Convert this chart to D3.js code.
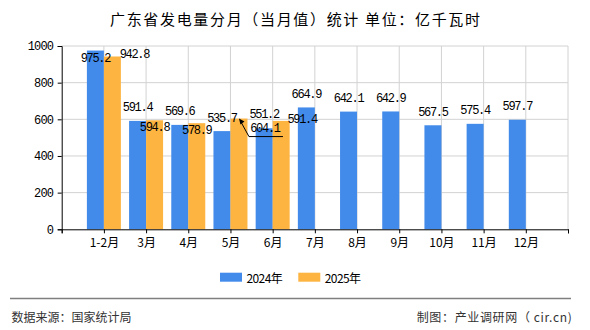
<!DOCTYPE html>
<html><head><meta charset="utf-8">
<script src="https://cdn.jsdelivr.net/npm/d3@7"></script>
<style>
body{margin:0;background:#fff;}
svg{display:block;}
</style></head>
<body>
<svg id="c" width="590" height="330"></svg>
<script>
const categories = ["1-2月","3月","4月","5月","6月","7月","8月","9月","10月","11月","12月"];
const values2024 = [975.2,591.4,569.6,535.7,551.2,664.9,642.1,642.9,567.5,575.4,597.7];
const values2025 = [942.8,594.8,578.9,604.1,591.4];
const seriesNames = ["2024年","2025年"];
const yTicks = [0,200,400,600,800,1000];
const title = "广东省发电量分月（当月值）统计 单位：亿千瓦时";
const sourceText = "数据来源：国家统计局";
const makerText = "制图：产业调研网（ cir.cn)";

const colors = ["#428BEB","#FDB441"];
const numFont = "'Liberation Mono','DejaVu Sans Mono',monospace";
const cjkFont = "'Noto Sans CJK SC','Noto Sans',sans-serif";

// label placement offsets (dx from bar centre, dy from bar top)
const blueLabelOff = [[0,8.5],[0,-12.5],[0,-13],[0,-12.2],[0,-13.2],[0,-12.4],[0,-12.6],[0,-12.6],[0,-12.6],[0,-12.8],[0,-12.4]];
const orangeLabelOff = [[22,-1.5],[0,8],[0,7.5],[26,10.7],[21,-1]];

const svg = d3.select("#c");
const L = 61.7, R = 568, T = 46, B = 229.3;
const x = d3.scaleLinear().domain([0,12]).range([L,R]);
const y = d3.scaleLinear().domain([0,1000]).range([B,T]);
const bw = 17;

// grid
const g = svg.append("g");
g.selectAll("line.h").data(yTicks.slice(1)).join("line")
  .attr("x1",L).attr("x2",R).attr("y1",d=>y(d)).attr("y2",d=>y(d))
  .attr("stroke","#d2d2d2").attr("stroke-width",1);
g.selectAll("line.v").data(d3.range(1,13)).join("line")
  .attr("x1",d=>x(d)).attr("x2",d=>x(d)).attr("y1",T).attr("y2",B)
  .attr("stroke","#d2d2d2").attr("stroke-width",1);

// bars
svg.append("g").selectAll("rect").data(values2024).join("rect")
  .attr("x",(d,i)=>x(i+1)-bw).attr("width",bw)
  .attr("y",d=>y(d)).attr("height",d=>B-y(d)).attr("fill",colors[0]);
svg.append("g").selectAll("rect").data(values2025).join("rect")
  .attr("x",(d,i)=>x(i+1)).attr("width",bw)
  .attr("y",d=>y(d)).attr("height",d=>B-y(d)).attr("fill",colors[1]);

// axes
const yAxis = svg.append("g").attr("transform",`translate(${L},0)`)
  .call(d3.axisLeft(y).tickValues(yTicks).tickSize(4).tickPadding(5).tickFormat(d3.format("d")));
const xAxis = svg.append("g").attr("transform",`translate(0,${B})`)
  .call(d3.axisBottom(x).tickValues(d3.range(0,13)).tickSize(4).tickPadding(3)
    .tickFormat(i => categories[i-1] || ""));
[yAxis,xAxis].forEach(a=>{
  a.select(".domain").attr("stroke","#000");
  a.selectAll(".tick line").attr("stroke","#000");
  a.selectAll("text").attr("fill","#000").style("font-size","12px");
});
yAxis.selectAll("text").style("font-family",numFont).style("letter-spacing","-0.9px").attr("dx","0.3px");
xAxis.selectAll("text").style("font-family",cjkFont).attr("dy","0.9em");

// value labels
const lab = svg.append("g").style("font-family",numFont).style("font-size","12px")
  .style("letter-spacing","-1.3px").attr("fill","#000");
lab.selectAll("text.b").data(values2024).join("text")
  .attr("x",(d,i)=>x(i+1)-bw/2+blueLabelOff[i][0])
  .attr("y",(d,i)=>y(d)+blueLabelOff[i][1])
  .attr("text-anchor","middle").attr("dominant-baseline","central")
  .text(d=>d.toFixed(1));
lab.selectAll("text.o").data(values2025).join("text")
  .attr("x",(d,i)=>x(i+1)+bw/2+orangeLabelOff[i][0])
  .attr("y",(d,i)=>y(d)+orangeLabelOff[i][1])
  .attr("text-anchor","middle").attr("dominant-baseline","central")
  .text(d=>d.toFixed(1));

// leader line for 5月 2025 label
{
  const i = 3, cx = x(i+1)+bw/2, ty = y(values2025[i]);
  svg.append("path")
    .attr("d",`M${cx+10},${ty+18} L${cx+44},${ty+18} M${cx+10},${ty+18} L${cx+1.5},${ty+2.5}`)
    .attr("stroke","#000").attr("stroke-width",1).attr("fill","none");
  svg.append("path").attr("d",`M${cx},${ty} l5.5,3 l-4,3 z`).attr("fill","#000");
}

// title
svg.append("text").attr("x",110).attr("y",18)
  .attr("dominant-baseline","central").style("font-family",cjkFont).style("font-size","15px")
  .attr("textLength",370).attr("lengthAdjust","spacing")
  .attr("fill","#000").text(title);

// legend
const lg = svg.append("g");
const lx = [220,298.3];
seriesNames.forEach((n,k)=>{
  lg.append("rect").attr("x",lx[k]).attr("y",272.7).attr("width",22).attr("height",9).attr("fill",colors[k]);
  lg.append("text").attr("x",lx[k]+26.5).attr("y",277.2).attr("dominant-baseline","central")
    .style("font-family",cjkFont).style("font-size","12px").style("letter-spacing","-0.6px").attr("fill","#000").text(n);
});

// footer
svg.append("line").attr("x1",10).attr("x2",571).attr("y1",298.5).attr("y2",298.5)
  .attr("stroke","#7f7f7f").attr("stroke-width",1.3);
svg.append("text").attr("x",11.5).attr("y",316).attr("dominant-baseline","central")
  .style("font-family",cjkFont).style("font-size","12px").attr("textLength",120).attr("lengthAdjust","spacing")
  .attr("fill","#333").text(sourceText);
svg.append("text").attr("x",416.7).attr("y",316).attr("dominant-baseline","central")
  .style("font-family",cjkFont).style("font-size","12px").attr("textLength",155).attr("lengthAdjust","spacing")
  .attr("fill","#333").text(makerText);
</script>
</body></html>
